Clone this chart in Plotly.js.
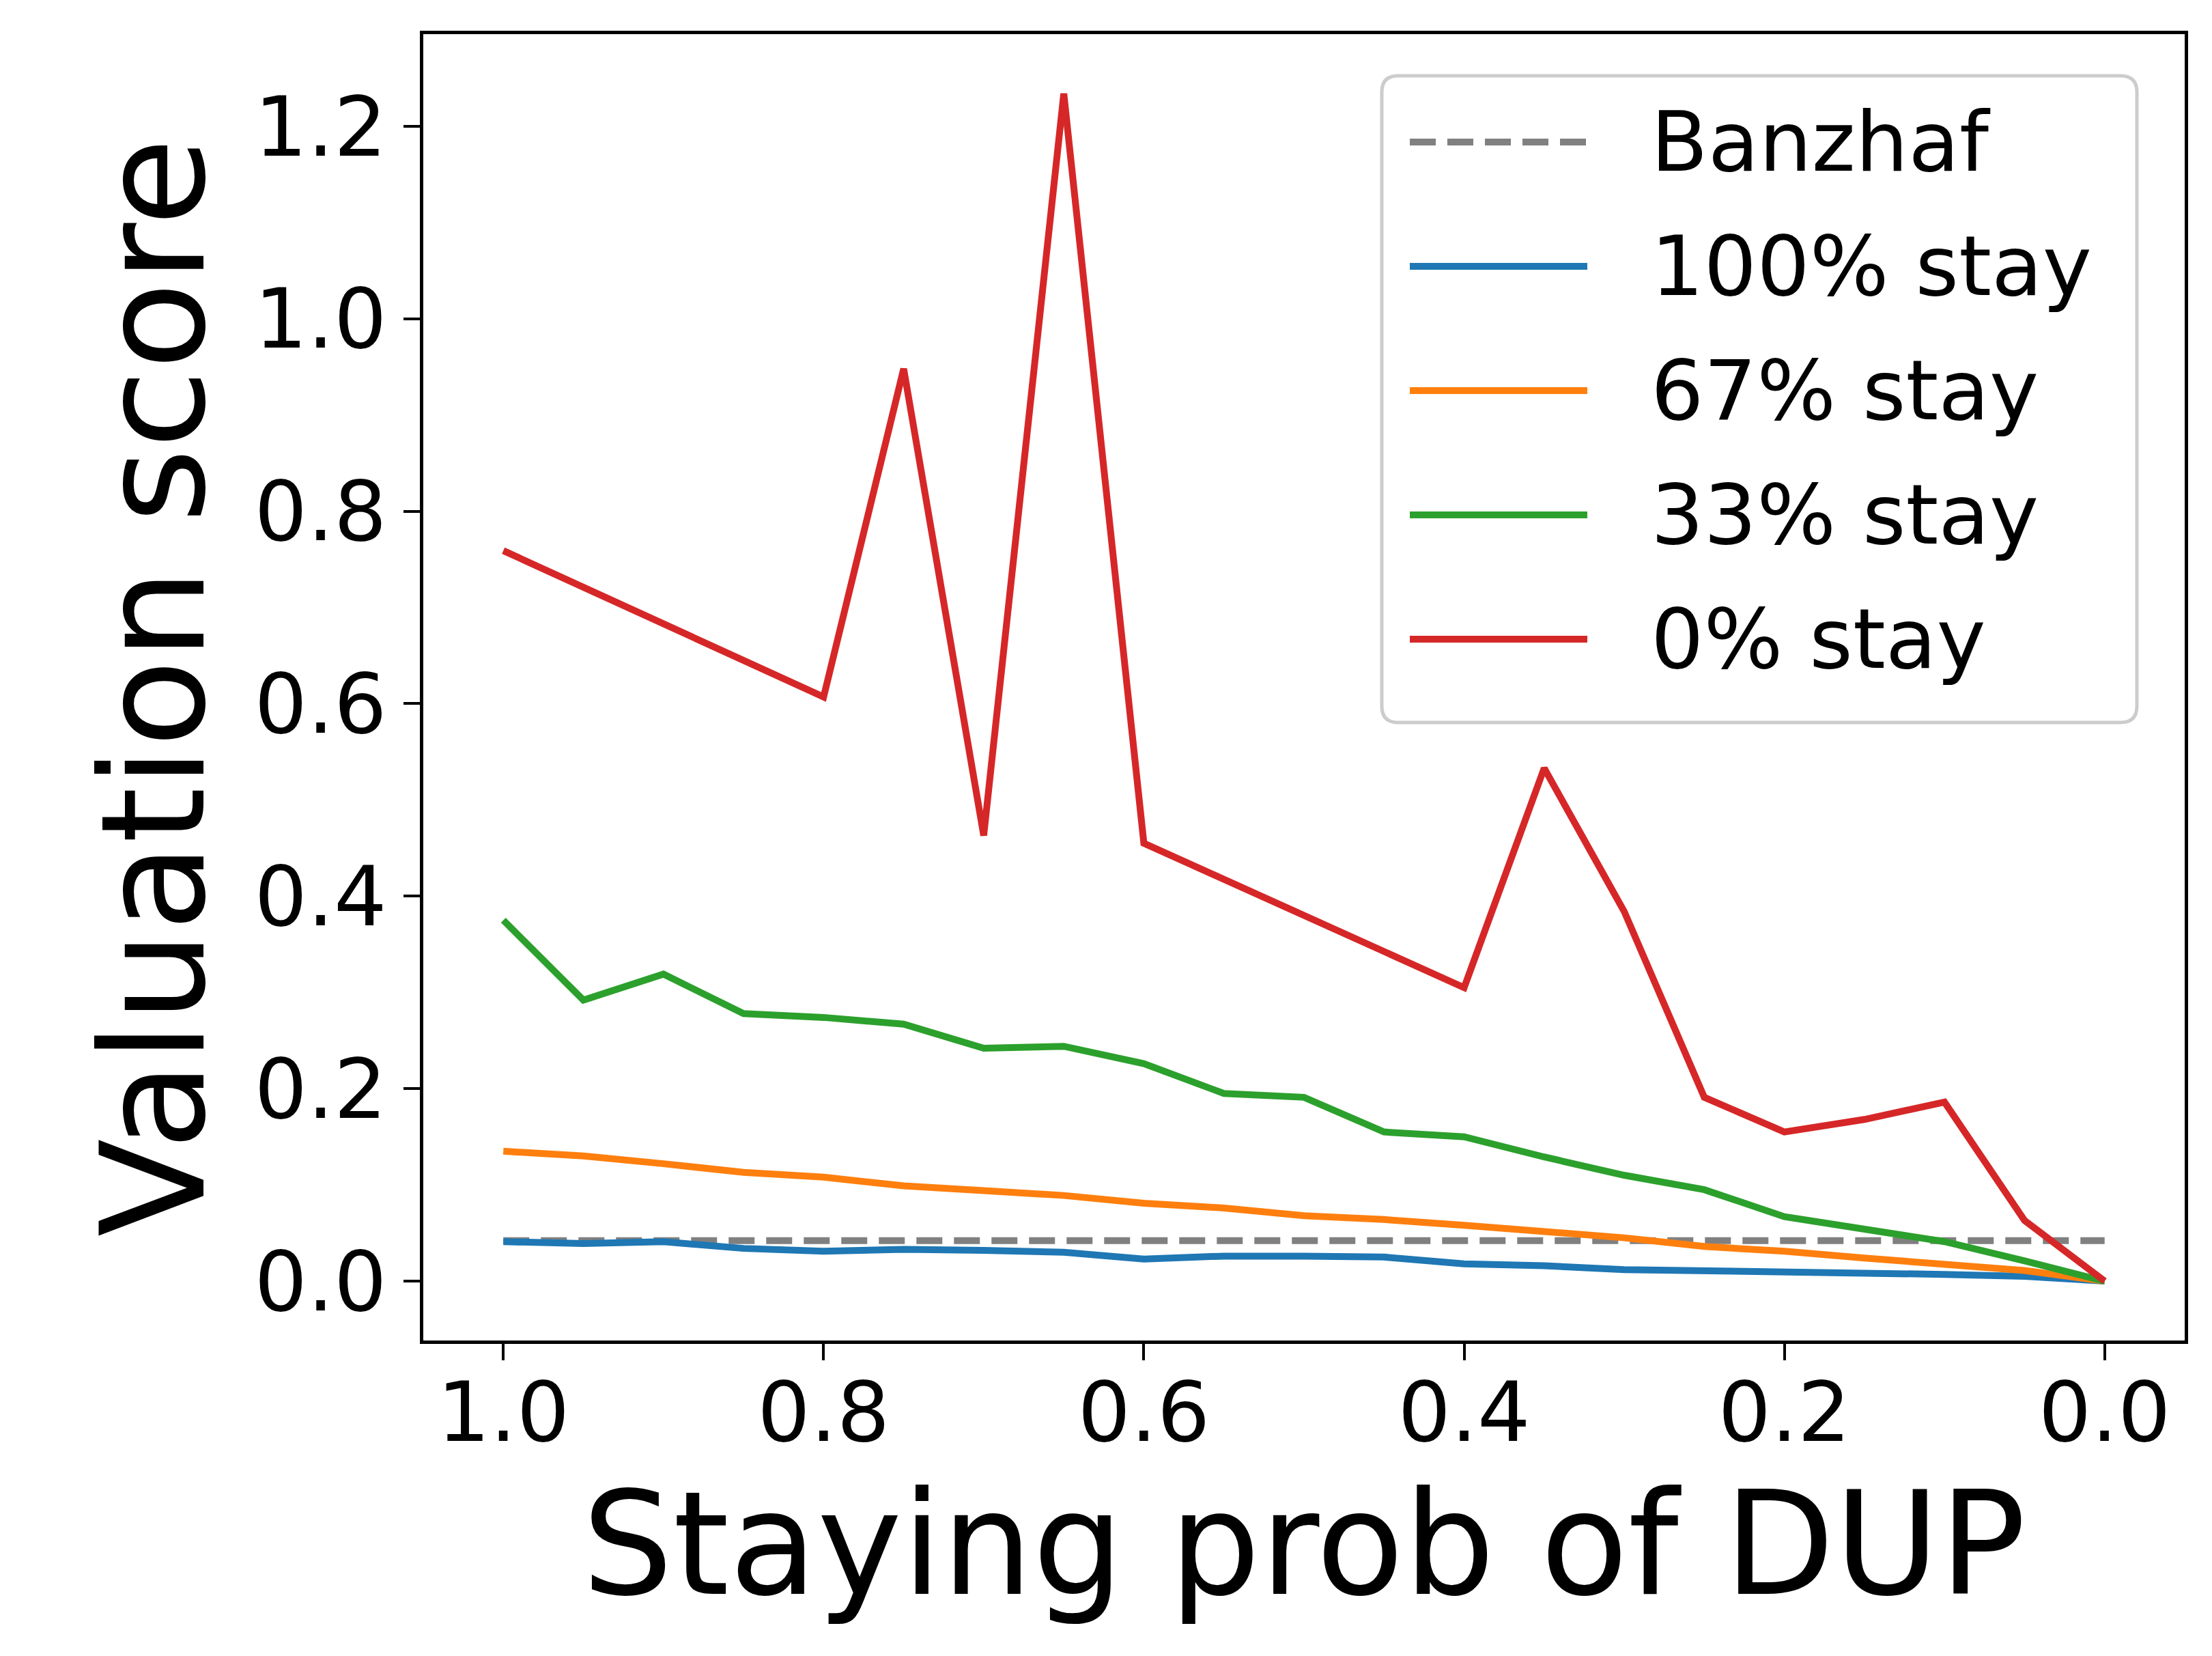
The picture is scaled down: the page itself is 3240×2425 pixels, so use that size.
<!DOCTYPE html>
<html>
<head>
<meta charset="utf-8">
<script src="https://cdn.plot.ly/plotly-3.0.1.min.js"></script>
<style>
  html, body { margin: 0; padding: 0; background: #fff; }
  #chart { width: 3240px; height: 2425px; }
</style>
</head>
<body>
<div id="chart"></div>
<script>
var stayProb = [1.0, 0.95, 0.9, 0.85, 0.8, 0.75, 0.7, 0.65, 0.6, 0.55, 0.5,
                0.45, 0.4, 0.35, 0.3, 0.25, 0.2, 0.15, 0.1, 0.05, 0.0];

var banzhafX = [1.0, 0.0];
var banzhafY = [0.042, 0.042];

var stay100 = [0.041, 0.039, 0.041, 0.034, 0.031, 0.033, 0.032, 0.030, 0.023, 0.026, 0.026,
               0.025, 0.018, 0.016, 0.012, 0.011, 0.010, 0.009, 0.007, 0.005, 0.0];
var stay67 = [0.135, 0.130, 0.122, 0.113, 0.108, 0.099, 0.094, 0.089, 0.081, 0.076, 0.068,
              0.064, 0.058, 0.051, 0.045, 0.036, 0.031, 0.024, 0.018, 0.011, 0.0];
var stay33 = [0.375, 0.292, 0.319, 0.278, 0.274, 0.267, 0.242, 0.244, 0.226, 0.195, 0.191,
              0.155, 0.150, 0.129, 0.110, 0.095, 0.067, 0.054, 0.041, 0.021, 0.0];

// the 0% curve only has readable points where it bends
var stay0X = [1.0, 0.8, 0.75, 0.7, 0.65, 0.6, 0.4, 0.35, 0.3, 0.25, 0.2, 0.15, 0.1, 0.05, 0.0];
var stay0 = [0.759, 0.607, 0.948, 0.463, 1.234, 0.455, 0.305, 0.533, 0.384, 0.191, 0.155,
             0.168, 0.186, 0.063, 0.0];

var seriesNames = ['Banzhaf', '100% stay', '67% stay', '33% stay', '0% stay'];
var seriesColors = ['#808080', '#1f77b4', '#ff7f0e', '#2ca02c', '#d62728'];
var seriesDash = ['38px,17px', 'solid', 'solid', 'solid', 'solid'];

var xTicks = [1.0, 0.8, 0.6, 0.4, 0.2, 0.0];
var yTicks = [0.0, 0.2, 0.4, 0.6, 0.8, 1.0, 1.2];

var W = 3240, H = 2425;
var M = { l: 620, r: 40, t: 50, b: 462 };
var FONT = 'DejaVu Sans, Liberation Sans, sans-serif';

// pixel -> paper helpers for the hand-made legend
function px(x) { return (x - M.l) / (W - M.l - M.r); }
function py(y) { return (H - M.b - y) / (H - M.t - M.b); }

var xs = [banzhafX, stayProb, stayProb, stayProb, stay0X];
var ys = [banzhafY, stay100, stay67, stay33, stay0];

var data = seriesNames.map(function (name, i) {
    return {
        x: xs[i],
        y: ys[i],
        name: name,
        type: 'scatter',
        mode: 'lines',
        line: { color: seriesColors[i], width: 10, dash: seriesDash[i] },
        showlegend: false
    };
});

// legend box with rounded corners
var bx0 = 2024, bx1 = 3130, by0 = 111, by1 = 1058, rad = 24;
var boxPath = 'M' + px(bx0 + rad) + ',' + py(by0) +
    ' L' + px(bx1 - rad) + ',' + py(by0) +
    ' Q' + px(bx1) + ',' + py(by0) + ' ' + px(bx1) + ',' + py(by0 + rad) +
    ' L' + px(bx1) + ',' + py(by1 - rad) +
    ' Q' + px(bx1) + ',' + py(by1) + ' ' + px(bx1 - rad) + ',' + py(by1) +
    ' L' + px(bx0 + rad) + ',' + py(by1) +
    ' Q' + px(bx0) + ',' + py(by1) + ' ' + px(bx0) + ',' + py(by1 - rad) +
    ' L' + px(bx0) + ',' + py(by0 + rad) +
    ' Q' + px(bx0) + ',' + py(by0) + ' ' + px(bx0 + rad) + ',' + py(by0) + ' Z';

var shapes = [{
    type: 'path', xref: 'paper', yref: 'paper', path: boxPath,
    fillcolor: 'rgba(255,255,255,0.8)', line: { color: '#cccccc', width: 5 }
}];
var annotations = [];
var rowTop = 208, rowGap = 182;
seriesNames.forEach(function (name, i) {
    var yy = py(rowTop + i * rowGap);
    shapes.push({
        type: 'line', xref: 'paper', yref: 'paper',
        x0: px(2065), x1: px(2325), y0: yy, y1: yy,
        line: { color: seriesColors[i], width: 10, dash: seriesDash[i] }
    });
    annotations.push({
        xref: 'paper', yref: 'paper', x: px(2416), y: yy,
        xanchor: 'left', yanchor: 'middle', showarrow: false,
        text: name, font: { family: FONT, size: 122, color: '#000' }
    });
});

var axisCommon = {
    showgrid: false,
    zeroline: false,
    showline: true,
    linecolor: '#000',
    linewidth: 5,
    mirror: true,
    ticks: 'outside',
    ticklen: 24,
    tickwidth: 4,
    tickcolor: '#000',
    tickformat: '.1f',
    tickfont: { family: FONT, size: 122, color: '#000' }
};

var layout = {
    width: W,
    height: H,
    margin: M,
    paper_bgcolor: '#fff',
    plot_bgcolor: '#fff',
    showlegend: false,
    xaxis: Object.assign({}, axisCommon, {
        range: [1.05, -0.05],
        tickvals: xTicks,
        ticklabelstandoff: -28,
        title: { text: 'Staying prob of DUP', font: { family: FONT, size: 210, color: '#000' }, standoff: 8 }
    }),
    yaxis: Object.assign({}, axisCommon, {
        range: [-0.0617, 1.2957],
        tickvals: yTicks,
        title: { text: 'Valuation score', font: { family: FONT, size: 210, color: '#000' }, standoff: 4 }
    }),
    shapes: shapes,
    annotations: annotations
};

Plotly.newPlot('chart', data, layout, { staticPlot: true, displayModeBar: false });
</script>
</body>
</html>
